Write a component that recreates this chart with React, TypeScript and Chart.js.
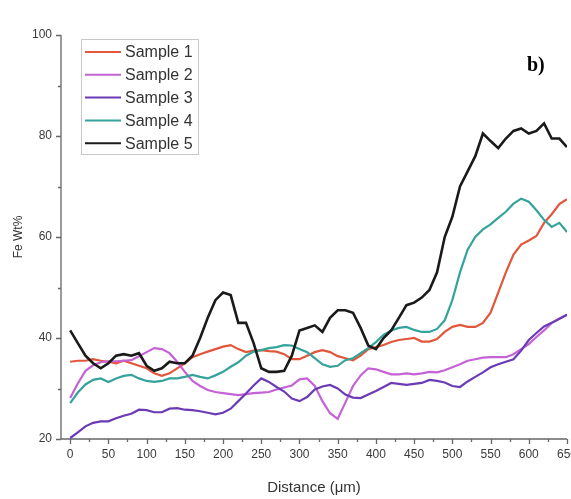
import React, { useEffect, useRef } from "react";
import { Chart, registerables } from "chart.js";

Chart.register(...registerables);

const distance = [
  0, 10, 20, 30, 40, 50, 60, 70, 80, 90, 100, 110, 120, 130, 140, 150, 160, 170, 180, 190,
  200, 210, 220, 230, 240, 250, 260, 270, 280, 290, 300, 310, 320, 330, 340, 350, 360, 370, 380, 390,
  400, 410, 420, 430, 440, 450, 460, 470, 480, 490, 500, 510, 520, 530, 540, 550, 560, 570, 580, 590,
  600, 610, 620, 630, 640, 650,
];

const sample1 = [
  35.3, 35.5, 35.5, 35.8, 35.5, 35.3, 35, 35.5, 35, 34.5, 34, 33, 32.5, 33, 34, 35, 36.2, 36.8, 37.3, 37.8,
  38.3, 38.6, 37.8, 37.2, 37.5, 37.6, 37.4, 37.3, 36.8, 35.8, 35.8, 36.5, 37.2, 37.6, 37.2, 36.4, 36, 35.6, 36.5, 37.8,
  38.2, 38.6, 39.2, 39.6, 39.8, 40, 39.3, 39.3, 39.8, 41.2, 42.2, 42.6, 42.2, 42.2, 43, 45, 49, 53, 56.5, 58.5,
  59.3, 60.2, 62.8, 64.5, 66.5, 67.5,
];

const sample2 = [
  28.1, 31, 33.5, 34.6, 35.2, 35.4, 35.4, 35.5, 35.6, 36.4, 37.2, 38, 37.8, 37, 35.3, 33.3, 31.5, 30.5, 29.7, 29.3,
  29.1, 28.9, 28.7, 28.9, 29.1, 29.2, 29.3, 29.8, 30.2, 30.6, 31.8, 32, 30.5, 27.5, 25.1, 24, 27.2, 30.5, 32.6, 34,
  33.8, 33.3, 32.8, 32.8, 33, 32.8, 33, 33.3, 33.2, 33.6, 34.2, 34.8, 35.5, 35.8, 36.1, 36.2, 36.2, 36.2, 36.8, 37.8,
  38.8, 40.2, 41.5, 43, 43.8, 44.6,
];

const sample3 = [
  20.2, 21.3, 22.5, 23.2, 23.5, 23.5, 24.1, 24.6, 25, 25.8, 25.7, 25.3, 25.3, 26, 26.1, 25.8, 25.7, 25.5, 25.2, 24.9,
  25.2, 26, 27.5, 29, 30.6, 32, 31.3, 30.3, 29.4, 28, 27.5, 28.3, 29.8, 30.4, 30.7, 30, 28.8, 28.2, 28.1, 28.8,
  29.5, 30.3, 31.1, 30.9, 30.7, 30.9, 31.1, 31.7, 31.5, 31.2, 30.5, 30.3, 31.4, 32.3, 33.2, 34.2, 34.8, 35.3, 35.8, 37.5,
  39.6, 41, 42.3, 43, 43.8, 44.6,
];

const sample4 = [
  27.1, 29.2, 30.8, 31.7, 32, 31.3, 32, 32.5, 32.7, 32, 31.5, 31.3, 31.5, 32, 32, 32.3, 32.7, 32.3, 32, 32.6,
  33.3, 34.3, 35.2, 36.5, 37.3, 37.6, 38, 38.2, 38.6, 38.5, 37.8, 37.2, 36, 34.8, 34.3, 34.5, 35.6, 36, 37, 38,
  39.2, 40.6, 41.5, 42, 42.2, 41.6, 41.2, 41.2, 41.8, 43.5, 47.5, 53, 57.5, 60, 61.5, 62.5, 63.8, 65, 66.6, 67.6,
  67, 65.3, 63.4, 62, 62.8, 61,
];

const sample5 = [
  41.5, 39, 36.5, 35, 34, 35, 36.5, 36.8, 36.5, 37, 34.5, 33.5, 34, 35.3, 35, 35, 36.5, 40, 44, 47.5,
  49, 48.5, 43, 43, 39, 34, 33.3, 33.3, 33.5, 36.5, 41.5, 42, 42.5, 41.2, 44, 45.5, 45.5, 45, 42, 38.5,
  37.8, 40, 41.5, 44, 46.5, 47, 48, 49.5, 53, 60, 64, 70, 73, 76, 80.5, 79, 77.6, 79.5, 81, 81.5,
  80.5, 81, 82.5, 79.5, 79.5, 77.8,
];

const seriesNames = ["Sample 1", "Sample 2", "Sample 3", "Sample 4", "Sample 5"];
const seriesColors = ["#e2573b", "#c462d6", "#6b3bb5", "#35a39b", "#1a1a1a"];
const seriesWidths = [2.2, 2.2, 2.2, 2.2, 2.6];

const yMajorTicks = [20, 40, 60, 80, 100];
const yMinorTicks = [30, 50, 70, 90];
const xMajorTicks = [0, 50, 100, 150, 200, 250, 300, 350, 400, 450, 500, 550, 600, 650];
const xMinorTicks = [25, 75, 125, 175, 225, 275, 325, 375, 425, 475, 525, 575, 625];

const axisPlugin = {
  id: "axisPlugin",
  beforeDatasetsDraw(chart: any) {
    const { ctx, chartArea, scales } = chart;
    const xs = scales.x;
    const ys = scales.y;
    ctx.save();
    ctx.strokeStyle = "#666";
    ctx.lineWidth = 1.3;
    ctx.beginPath();
    ctx.moveTo(chartArea.left, chartArea.top);
    ctx.lineTo(chartArea.left, chartArea.bottom);
    ctx.lineTo(chartArea.right, chartArea.bottom);
    ctx.stroke();
    ctx.beginPath();
    yMajorTicks.forEach((v) => {
      const p = Math.round(ys.getPixelForValue(v)) + 0.5;
      ctx.moveTo(chartArea.left - 5, p);
      ctx.lineTo(chartArea.left, p);
    });
    yMinorTicks.forEach((v) => {
      const p = Math.round(ys.getPixelForValue(v)) + 0.5;
      ctx.moveTo(chartArea.left - 3, p);
      ctx.lineTo(chartArea.left, p);
    });
    xMajorTicks.forEach((v) => {
      const p = Math.round(xs.getPixelForValue(v)) + 0.5;
      ctx.moveTo(p, chartArea.bottom);
      ctx.lineTo(p, chartArea.bottom + 5);
    });
    xMinorTicks.forEach((v) => {
      const p = Math.round(xs.getPixelForValue(v)) + 0.5;
      ctx.moveTo(p, chartArea.bottom);
      ctx.lineTo(p, chartArea.bottom + 3);
    });
    ctx.stroke();
    ctx.restore();
  },
  afterDraw(chart: any) {
    const { ctx } = chart;
    ctx.save();
    ctx.strokeStyle = "#c8c8c8";
    ctx.lineWidth = 1;
    ctx.strokeRect(81.5, 39.5, 117, 115);
    ctx.font = '16px "Liberation Sans", Arial, sans-serif';
    ctx.textBaseline = "middle";
    ctx.textAlign = "left";
    chart.data.datasets.forEach((ds: any, i: number) => {
      const y = 52 + i * 22.8;
      ctx.strokeStyle = ds.borderColor;
      ctx.lineWidth = 2;
      ctx.beginPath();
      ctx.moveTo(85, y);
      ctx.lineTo(121, y);
      ctx.stroke();
      ctx.fillStyle = "#333";
      ctx.fillText(ds.label, 125, y + 1);
    });
    ctx.fillStyle = "#000";
    ctx.font = 'bold 20px "Liberation Serif", "Times New Roman", serif';
    ctx.textAlign = "left";
    ctx.textBaseline = "alphabetic";
    ctx.fillText("b)", 527, 71);
    ctx.restore();
  },
};

export default function App() {
  const canvasRef = useRef<HTMLCanvasElement | null>(null);

  useEffect(() => {
    const canvas = canvasRef.current;
    if (!canvas) return;
    const all = [sample1, sample2, sample3, sample4, sample5];
    const datasets = all.map((vals, i) => ({
      label: seriesNames[i],
      data: distance.map((d, j) => ({ x: d, y: vals[j] })),
      borderColor: seriesColors[i],
      backgroundColor: seriesColors[i],
      borderWidth: seriesWidths[i],
      pointRadius: 0,
      tension: 0,
      fill: false,
      order: i === 4 ? 0 : 5 - i,
    }));
    const chart = new Chart(canvas, {
      type: "line",
      data: { datasets },
      plugins: [axisPlugin],
      options: {
        responsive: false,
        animation: false,
        devicePixelRatio: 1,
        layout: { padding: { left: 0, right: 33, top: 35, bottom: 0 } },
        plugins: { legend: { display: false }, tooltip: { enabled: false } },
        scales: {
          x: {
            type: "linear",
            min: -12,
            max: 650,
            grid: { display: false, drawTicks: false },
            border: { display: false },
            afterBuildTicks: (s: any) => {
              s.ticks = xMajorTicks.map((v) => ({ value: v }));
            },
            afterFit: (s: any) => {
              s.height = 60;
            },
            ticks: {
              autoSkip: false,
              maxRotation: 0,
              padding: 8,
              color: "#3a3a3a",
              font: { family: '"Liberation Sans", Arial, sans-serif', size: 12 },
            },
            title: {
              display: true,
              text: "Distance (\u03bcm)",
              color: "#333",
              padding: { top: 0, bottom: 2 },
              font: { family: '"Liberation Sans", Arial, sans-serif', size: 15 },
            },
          },
          y: {
            type: "linear",
            min: 20,
            max: 100,
            grid: { display: false, drawTicks: false },
            border: { display: false },
            afterBuildTicks: (s: any) => {
              s.ticks = yMajorTicks.map((v) => ({ value: v }));
            },
            afterFit: (s: any) => {
              s.width = 61;
            },
            ticks: {
              padding: 9,
              color: "#3a3a3a",
              font: { family: '"Liberation Sans", Arial, sans-serif', size: 12 },
            },
            title: {
              display: true,
              text: "Fe Wt%",
              color: "#333",
              padding: { top: 11, bottom: 0 },
              font: { family: '"Liberation Sans", Arial, sans-serif', size: 12 },
            },
          },
        },
      },
    });
    return () => chart.destroy();
  }, []);

  return (
    <div
      style={{
        position: "fixed",
        left: 0,
        top: 0,
        width: 571,
        height: 499,
        overflow: "hidden",
        background: "#fff",
      }}
    >
      <canvas ref={canvasRef} width={600} height={499} style={{ width: 600, height: 499, display: "block" }} />
    </div>
  );
}
